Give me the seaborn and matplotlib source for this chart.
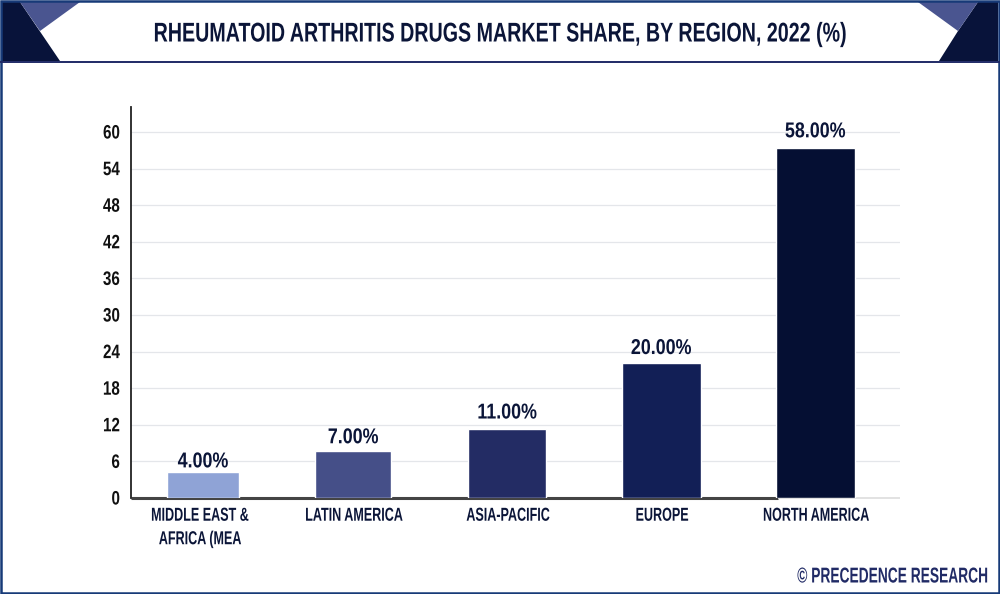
import matplotlib
matplotlib.use("Agg")
import matplotlib.pyplot as plt
from matplotlib.patches import Polygon, Rectangle
from matplotlib.patheffects import AbstractPathEffect
from matplotlib.transforms import Affine2D
import seaborn as sns
import pandas as pd

categories = ["MIDDLE EAST &\nAFRICA (MEA", "LATIN AMERICA", "ASIA-PACIFIC", "EUROPE", "NORTH AMERICA"]
bar_values = [4.2, 7.7, 11.3, 22.1, 57.4]
value_labels = ["4.00%", "7.00%", "11.00%", "20.00%", "58.00%"]
bar_colors = ["#8fa3d6", "#454f88", "#232c64", "#121f56", "#050f33"]
y_ticks = [0, 6, 12, 18, 24, 30, 36, 42, 48, 54, 60]
title = "RHEUMATOID ARTHRITIS DRUGS MARKET SHARE, BY REGION, 2022 (%)"
source = "© PRECEDENCE RESEARCH"

NAVY = "#0b1538"
sns.set_theme(style="white")
plt.rcParams["font.family"] = ["Liberation Sans", "DejaVu Sans"]

W, H = 1000, 594
fig = plt.figure(figsize=(W / 100, H / 100), dpi=100, facecolor="white")


class Condense(AbstractPathEffect):
    """Squeeze real text horizontally about a fixed display x (no condensed font is installed)."""

    def __init__(self, cx, sx):
        super().__init__()
        self.cx, self.sx = cx, sx

    def draw_path(self, renderer, gc, tpath, affine, rgbFace=None):
        squeeze = Affine2D().translate(-self.cx, 0).scale(self.sx, 1).translate(self.cx, 0)
        renderer.draw_path(gc, tpath, affine + squeeze, rgbFace)


def condense(text, sx, anchor="center"):
    box = text.get_window_extent(fig.canvas.get_renderer())
    cx = box.x1 if anchor == "right" else (box.x0 + box.x1) / 2
    text.set_path_effects([Condense(cx, sx)])


# page decoration in pixel coordinates
bg = fig.add_axes([0, 0, 1, 1], zorder=0)
bg.set_xlim(0, W)
bg.set_ylim(H, 0)
bg.axis("off")
bg.add_patch(Polygon([(2, 2), (20, 2), (60, 61), (2, 61)], color="#08133a", lw=0))
bg.add_patch(Polygon([(20, 2), (80, 2), (40, 31)], color="#4a5590", lw=0))
bg.add_patch(Polygon([(998, 2), (978, 2), (958, 31), (939, 61), (998, 61)], color="#08133a", lw=0))
bg.add_patch(Polygon([(918, 2), (978, 2), (958, 31)], color="#4a5590", lw=0))
bg.plot([0, W], [61.5, 61.5], color="#1f2a66", lw=1.4)
bg.add_patch(Rectangle((0.8, 0.8), W - 1.6, H - 1.6, fill=False, ec="#173a78", lw=1.8))
title_text = bg.text(501, 34.5, title, ha="center", va="center", fontsize=19.5, fontweight="bold", color=NAVY)
source_text = bg.text(987, 577, source, ha="right", va="center", fontsize=15.5, fontweight="bold", color="#212b66")

# chart
ax = fig.add_axes([131 / W, 1 - 498 / H, (900 - 131) / W, (498 - 107) / H], zorder=1)
ax.patch.set_alpha(0)
df = pd.DataFrame({"region": categories, "value": bar_values})
sns.barplot(data=df, x="region", y="value", hue="region", palette=bar_colors,
            legend=False, width=0.506, saturation=1, ax=ax, zorder=3)
ax.set_xlabel("")
ax.set_ylabel("")
x_left, x_right = -0.448, 4.545

widen = [0.92, 0.98, 1, 1.01, 1.01]
shift = [0.02, -0.005, -0.005, -0.005, -0.005]
lift = [0, 2, 4, 3, 4]
value_texts = []
for patch, scale, dx, up, label in zip(ax.patches, widen, shift, lift, value_labels):
    c = patch.get_x() + patch.get_width() / 2 + dx
    w = patch.get_width() * scale
    patch.set_x(c - w / 2)
    patch.set_width(w)
    value_texts.append(ax.annotate(label, (c, patch.get_height()), xytext=(0, up),
                                   textcoords="offset points", ha="center", va="bottom",
                                   fontsize=15.5, fontweight="bold", color=NAVY, zorder=5))

ax.set_yticks(y_ticks)
ax.set_yticklabels([str(t) for t in y_ticks], fontsize=14, fontweight="bold", color="#111111")
ax.tick_params(axis="y", length=0, pad=8)
ax.tick_params(axis="x", length=0, pad=7)
ax.set_xticks(range(len(categories)))
ax.set_xticklabels(categories, fontsize=13.5, fontweight="bold", color=NAVY, linespacing=1.5)
ax.grid(axis="y", color="#e4e6ea", lw=0.9, zorder=0)
ax.set_axisbelow(True)
for s in ["top", "right", "bottom"]:
    ax.spines[s].set_visible(False)
ax.spines["left"].set_color("#222222")
ax.spines["left"].set_linewidth(1.3)
# baseline: dark until the last bar, pale after it
ax.plot([x_left, 3.75], [0, 0], color="#444444", lw=2.2, clip_on=False, zorder=2, solid_capstyle="butt")
ax.plot([3.75, x_right], [0, 0], color="#dddddd", lw=1.2, clip_on=False, zorder=2, solid_capstyle="butt")
ax.set_xlim(x_left, x_right)
ax.set_ylim(0, 64.1)

# narrow the lettering once the layout is known
fig.canvas.draw()
condense(title_text, 0.726)
condense(source_text, 0.64, "right")
for t in value_texts:
    condense(t, 0.83)
for t in ax.get_xticklabels():
    condense(t, 0.67)
for t in ax.get_yticklabels():
    condense(t, 0.78, "right")

fig.savefig("out.png", dpi=100)
